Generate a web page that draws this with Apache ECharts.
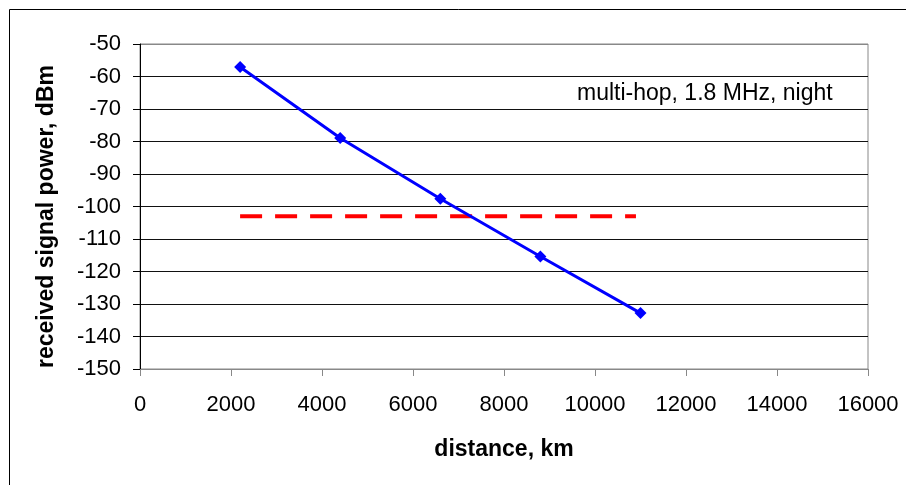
<!DOCTYPE html>
<html><head><meta charset="utf-8">
<script src="https://cdn.jsdelivr.net/npm/echarts@6/dist/echarts.min.js"></script>
<style>html,body{margin:0;padding:0;background:#fff}#c{width:906px;height:485px}</style>
</head><body><div id="c"></div>
<script>
const distances = [2200, 4400, 6600, 8800, 11000];
const power = [-57.1, -78.9, -97.6, -115.4, -132.8];
const thresholdX = [2200, 10900];
const thresholdY = [-103, -103];
const annotation = 'multi-hop, 1.8 MHz, night';
const xTitle = 'distance, km';
const yTitle = 'received signal power, dBm';

const chart = echarts.init(document.getElementById('c'));
const font = 'Liberation Sans, Arial, sans-serif';
chart.setOption({
  animation: false,
  backgroundColor: '#fff',
  graphic: [
    {type: 'rect', shape: {x: 9.5, y: 9.5, width: 920, height: 500}, style: {fill: 'none', stroke: '#000', lineWidth: 1}, z: -1},
    {type: 'text', left: 577, top: 82, style: {text: annotation, font: '23px ' + font, fill: '#000'}}
  ],
  grid: {left: 140, right: 38, top: 44, bottom: 116, show: true, borderColor: '#888', borderWidth: 1},
  xAxis: {
    type: 'value', min: 0, max: 16000, interval: 2000,
    name: xTitle, nameLocation: 'middle', nameGap: 69,
    nameTextStyle: {fontFamily: font, fontSize: 23, fontWeight: 'bold', color: '#000'},
    axisLine: {show: true, lineStyle: {color: '#888', width: 1}},
    axisTick: {show: true, length: 7, lineStyle: {color: '#888'}},
    axisLabel: {fontFamily: font, fontSize: 22, color: '#000', margin: 25, formatter: v => String(v)},
    splitLine: {show: false}
  },
  yAxis: {
    type: 'value', min: -150, max: -50, interval: 10,
    name: yTitle, nameLocation: 'middle', nameGap: 82, nameRotate: 90,
    nameTextStyle: {fontFamily: font, fontSize: 23, fontWeight: 'bold', color: '#000', padding: [0, 20, 0, 0]},
    axisLine: {show: true, onZero: false, lineStyle: {color: '#000', width: 1}},
    axisTick: {show: true, length: 7, lineStyle: {color: '#000'}},
    axisLabel: {fontFamily: font, fontSize: 22, color: '#000', margin: 19},
    splitLine: {show: true, lineStyle: {color: ['#888', '#111', '#111', '#111', '#111', '#111', '#111', '#111', '#111', '#111', '#888'], width: 1}}
  },
  series: [
    {type: 'line', data: distances.map((d, i) => [d, power[i]]),
     symbol: 'diamond', symbolSize: 12, showAllSymbol: true,
     lineStyle: {color: '#0000FF', width: 3}, itemStyle: {color: '#0000FF'}, z: 3},
    {type: 'line', data: thresholdX.map((d, i) => [d, thresholdY[i]]),
     symbol: 'none',
     lineStyle: {color: '#FF0000', width: 4, type: [22, 13]}, z: 2}
  ]
});
</script></body></html>
